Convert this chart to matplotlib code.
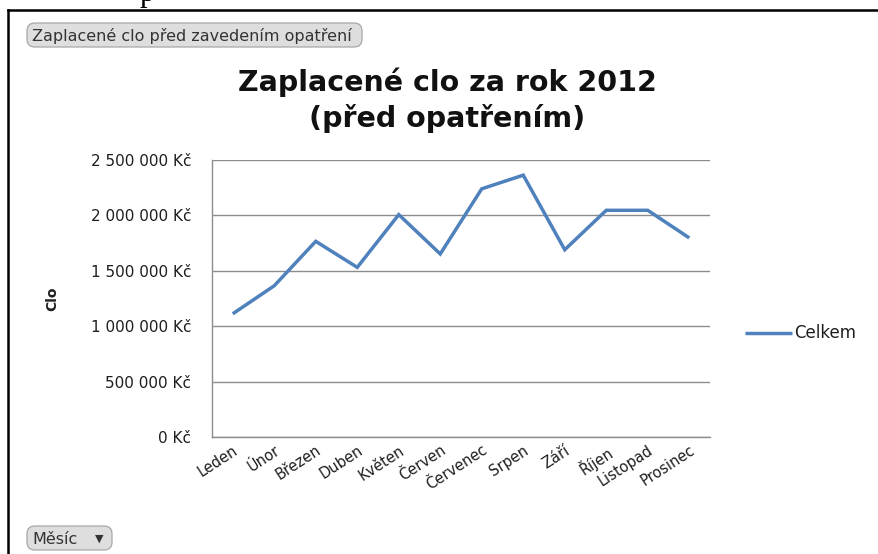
import matplotlib
matplotlib.use("Agg")
import matplotlib.pyplot as plt
from matplotlib.patches import FancyBboxPatch
from matplotlib.lines import Line2D
from matplotlib.ticker import FuncFormatter, MultipleLocator

months = ["Leden", "Únor", "Březen", "Duben", "Květen", "Červen",
          "Červenec", "Srpen", "Září", "Říjen", "Listopad", "Prosinec"]
clo_celkem = [1112000, 1365000, 1766000, 1531000, 2007000, 1652000,
              2240000, 2363000, 1690000, 2046000, 2046000, 1797000]

title = "Zaplacené clo za rok 2012\n(před opatřením)"
series_name = "Celkem"
y_label = "Clo"
filter_button = "Zaplacené clo před zavedením opatření"
field_button = "Měsíc"

W, H = 879, 554
fig = plt.figure(figsize=(W / 100, H / 100), dpi=100)
fig.patch.set_facecolor("white")

label_font = ["DejaVu Sans"]
title_font = ["DejaVu Sans"]
text_color = "#1e1e1e"
grid_color = "#8c8c8c"


def fx(px):
    return px / W


def fy(py):
    return 1 - py / H


ax = fig.add_axes([fx(212), fy(437), fx(710) - fx(212), fy(160) - fy(437)])
x = list(range(len(months)))
line_color = "#4F81BD"
ax.plot(x, clo_celkem, color=line_color, lw=2.5, solid_joinstyle="miter",
        solid_capstyle="butt", zorder=3)
ax.set_xlim(-0.5, len(months) - 0.5)
ax.set_ylim(0, 2500000)
ax.yaxis.set_major_locator(MultipleLocator(500000))


def kc(v, _):
    s = f"{int(round(v)):,}".replace(",", " ")
    return f"{s} Kč"


ax.yaxis.set_major_formatter(FuncFormatter(kc))
ax.grid(axis="y", color=grid_color, lw=1.0)
ax.set_axisbelow(True)
for side in ["top", "right"]:
    ax.spines[side].set_visible(False)
for side in ["left", "bottom"]:
    ax.spines[side].set_color(grid_color)
    ax.spines[side].set_linewidth(1.0)
ax.tick_params(axis="y", length=0, pad=15, labelsize=11, labelcolor=text_color)
ax.tick_params(axis="x", length=0, pad=4)
for lab in ax.get_yticklabels():
    lab.set_fontfamily(label_font)
ax.set_xticks(x)
ax.set_xticklabels(months, rotation=33, ha="right", va="top",
                   rotation_mode="anchor", fontsize=10.5, color=text_color,
                   family=label_font)
ax.set_ylabel(y_label, fontsize=10, fontweight="bold", family=label_font,
              color=text_color)
ax.yaxis.set_label_coords((59 - 212) / (710 - 212), 0.5)

fig.text(fx(447), fy(100), title, ha="center", va="center", fontsize=20.5,
         fontweight="bold", family=title_font, linespacing=1.3,
         color="#111111")

# legend entry
fig.add_artist(Line2D([fx(745), fx(792)], [fy(333), fy(333)],
                      color=line_color, lw=2.5, solid_capstyle="butt"))
fig.text(fx(794), fy(333), series_name, ha="left", va="center", fontsize=12,
         family=label_font, color=text_color)


# pivot field buttons
def button(x0, y0, x1, y1, text, arrow=False):
    box = FancyBboxPatch((fx(x0), fy(y1)), fx(x1) - fx(x0), fy(y0) - fy(y1),
                         boxstyle="round,pad=0,rounding_size=0.009",
                         transform=fig.transFigure, facecolor="#dedede",
                         edgecolor="#a8a8a8", lw=0.9, mutation_aspect=W / H)
    fig.add_artist(box)
    fig.text(fx(x0 + 5), fy((y0 + y1) / 2 + 1), text, ha="left", va="center",
             fontsize=11.5, family=label_font, color="#333333")
    if arrow:
        fig.text(fx(x1 - 13), fy((y0 + y1) / 2 + 1), "▼", ha="center",
                 va="center", fontsize=8, family=["DejaVu Sans"],
                 color="#333333")


button(27, 23, 362, 47, filter_button)
button(27, 526, 112, 550, field_button, arrow=True)

# frame of the sheet region
fig.add_artist(Line2D([fx(8), 1], [fy(10), fy(10)], color="black", lw=1.8))
fig.add_artist(Line2D([fx(8), fx(8)], [fy(10), 0], color="black", lw=1.8))
fig.text(fx(140), fy(1.5), "p", ha="left", va="baseline", fontsize=22,
         family=["Liberation Serif"], color="black")

fig.savefig("out.png", dpi=100, facecolor="white")
